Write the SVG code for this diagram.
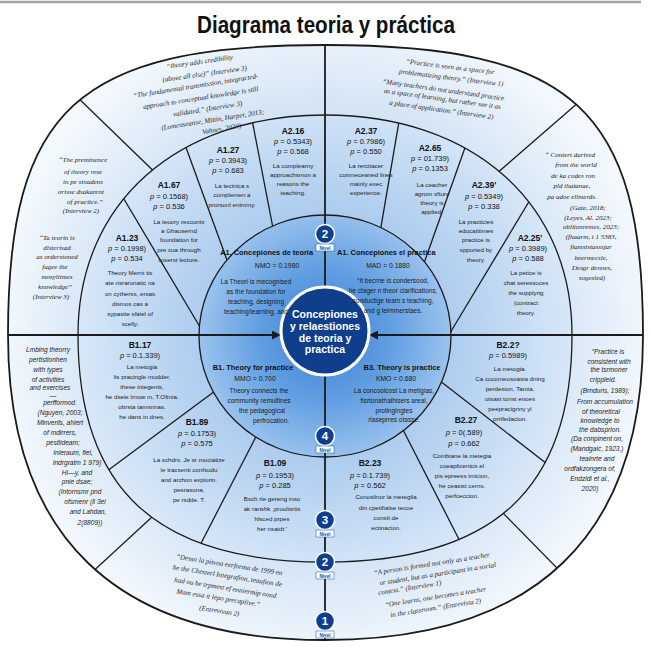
<svg xmlns="http://www.w3.org/2000/svg" width="651" height="656" viewBox="0 0 651 656">
<style>
  .ttl { font: bold 24px "Liberation Sans", Arial, sans-serif; fill: #111; text-anchor: middle; }
  .lab { font: bold 8.5px "Liberation Sans", Arial, sans-serif; fill: #111; text-anchor: middle; }
  .pv { font: 7.5px "Liberation Sans", Arial, sans-serif; fill: #111; text-anchor: middle; }
  .bd { font: 6.2px "Liberation Sans", Arial, sans-serif; fill: #222; text-anchor: middle; }
  .qs { font: italic 7px "Liberation Serif", "Times New Roman", serif; fill: #1e1e1e; text-anchor: middle; }
  .qa { font: italic 6.6px "Liberation Sans", Arial, sans-serif; fill: #1e1e1e; text-anchor: middle; }
  .hd { font: bold 7.4px "Liberation Sans", Arial, sans-serif; fill: #111; }
  .kmo { font: 6.8px "Liberation Sans", Arial, sans-serif; fill: #1a1a1a; text-anchor: middle; }
  .ib { font: 6.5px "Liberation Sans", Arial, sans-serif; fill: #1a1a1a; text-anchor: middle; }
  .ctr { font: bold 10.5px "Liberation Sans", Arial, sans-serif; fill: #fff; text-anchor: middle; }
  .num { font: bold 11.5px "Liberation Sans", Arial, sans-serif; fill: #fff; text-anchor: middle; }
  .nv { font: bold 4.6px "Liberation Sans", Arial, sans-serif; fill: #1a4e9a; text-anchor: middle; }
  .edge { fill: none; stroke: #1b1b1b; stroke-width: 1.3; }
  .axis { fill: none; stroke: #1b1b1b; stroke-width: 1.8; }
</style>
<defs>
  <radialGradient id="gOuter" gradientUnits="userSpaceOnUse" cx="325" cy="335" r="325">
    <stop offset="0.6" stop-color="#c9def4"/>
    <stop offset="1" stop-color="#f3f8fd"/>
  </radialGradient>
  <radialGradient id="gMid" gradientUnits="userSpaceOnUse" cx="325" cy="335" r="250">
    <stop offset="0.45" stop-color="#a9caee"/>
    <stop offset="1" stop-color="#d9e8f8"/>
  </radialGradient>
  <radialGradient id="gInner" gradientUnits="userSpaceOnUse" cx="325" cy="335" r="128">
    <stop offset="0" stop-color="#3f82d4"/>
    <stop offset="0.5" stop-color="#5f9de1"/>
    <stop offset="1" stop-color="#9dc4ee"/>
  </radialGradient>
  <path id="outerShape" d="M8,335 C8,108.8 77.7,45 325,45 C573,45 643,108.8 643,335 C643,536.3 534.9,640 325,640 C115.8,640 8,536.3 8,335 Z"/>
  <path id="midShape" d="M78,335 C78,203 177,115 325,115 C473,115 572,203 572,335 C572,489.4 493,562 325,562 C157,562 78,489.4 78,335 Z"/>
  <clipPath id="clipOuter"><use href="#outerShape"/></clipPath>
  <clipPath id="clipMid"><use href="#midShape"/></clipPath>
  <marker id="arrow" viewBox="0 0 10 10" refX="9" refY="5" markerWidth="9" markerHeight="9" markerUnits="userSpaceOnUse" orient="auto">
    <path d="M0,0 L10,5 L0,10 Z" fill="#1b1b1b"/>
  </marker>
</defs>

<line x1="0" y1="2" x2="641" y2="2" stroke="#a3a3a3" stroke-width="2.5"/>
<text class="ttl" x="326" y="33" textLength="258" lengthAdjust="spacingAndGlyphs">Diagrama teoria y práctica</text>

<!-- rings -->
<g id="outer-ring">
  <use href="#outerShape" fill="url(#gOuter)" stroke="#1b1b1b" stroke-width="1.8"/>
</g>
<g id="connectors-outer" clip-path="url(#clipOuter)" class="edge">
  <line x1="40" y1="61" x2="200" y2="216"/>
  <line x1="610" y1="75" x2="450" y2="214"/>
  <line x1="50" y1="611" x2="215" y2="459"/>
  <line x1="610" y1="622" x2="450" y2="459"/>
</g>
<g id="middle-ring">
  <use href="#midShape" fill="url(#gMid)" stroke="#1b1b1b" stroke-width="1.3"/>
</g>
<g id="connectors-middle" clip-path="url(#clipMid)" class="edge">
  <line x1="115" y1="184" x2="200" y2="327"/>
  <line x1="180" y1="131" x2="235" y2="282"/>
  <line x1="249" y1="104" x2="278" y2="254"/>
  <line x1="402" y1="104" x2="375" y2="262"/>
  <line x1="472" y1="128" x2="418" y2="280"/>
  <line x1="542" y1="180" x2="450" y2="333"/>
  <line x1="95" y1="480" x2="215" y2="391"/>
  <line x1="195" y1="555" x2="262" y2="425"/>
  <line x1="398" y1="420" x2="467" y2="555"/>
  <line x1="435" y1="377" x2="560" y2="474"/>
</g>
<g id="inner-disk">
  <ellipse cx="325" cy="336" rx="126" ry="121" fill="url(#gInner)" stroke="#1b1b1b" stroke-width="1.3"/>
</g>

<!-- axes -->
<g id="connectors-axes" class="axis">
  <line x1="325" y1="45" x2="325" y2="287"/>
  <line x1="325" y1="375" x2="325" y2="640"/>
  <line x1="8" y1="335" x2="280" y2="335" marker-end="url(#arrow)"/>
  <line x1="643" y1="335" x2="370" y2="335" marker-end="url(#arrow)"/>
</g>

<!-- centre -->
<g id="node-center">
  <circle cx="325" cy="331" r="44" fill="#0f3e8c" stroke="#ffffff" stroke-width="3"/>
  <text class="ctr" x="325" y="318">Concepiones</text>
  <text class="ctr" x="325" y="330">y relaestiones</text>
  <text class="ctr" x="325" y="341.5">de teoria y</text>
  <text class="ctr" x="325" y="353">practica</text>
</g>

<!-- level badges -->
<g id="badges">
  <g id="badge-top-2">
    <circle cx="325" cy="234" r="9.5" fill="#0e3f8f" stroke="#fff" stroke-width="1.5"/>
    <text class="num" x="325" y="238">2</text>
    <rect x="316" y="244" width="18" height="7" fill="#fff" stroke="#1a4e9a" stroke-width="0.5"/>
    <text class="nv" x="325" y="249.5">Nivel</text>
  </g>
  <g id="badge-4">
    <circle cx="325" cy="436" r="9.5" fill="#0e3f8f" stroke="#fff" stroke-width="1.5"/>
    <text class="num" x="325" y="440">4</text>
    <rect x="316" y="446" width="18" height="7" fill="#fff" stroke="#1a4e9a" stroke-width="0.5"/>
    <text class="nv" x="325" y="451.5">Nivel</text>
  </g>
  <g id="badge-3">
    <circle cx="325" cy="520" r="9.5" fill="#0e3f8f" stroke="#fff" stroke-width="1.5"/>
    <text class="num" x="325" y="524">3</text>
    <rect x="316" y="530" width="18" height="7" fill="#fff" stroke="#1a4e9a" stroke-width="0.5"/>
    <text class="nv" x="325" y="535.5">Nivel</text>
  </g>
  <g id="badge-2">
    <circle cx="325" cy="562" r="9.5" fill="#0e3f8f" stroke="#fff" stroke-width="1.5"/>
    <text class="num" x="325" y="566">2</text>
    <rect x="316" y="572" width="18" height="7" fill="#fff" stroke="#1a4e9a" stroke-width="0.5"/>
    <text class="nv" x="325" y="577.5">Nivel</text>
  </g>
  <g id="badge-1">
    <circle cx="325" cy="621" r="9.5" fill="#0e3f8f" stroke="#fff" stroke-width="1.5"/>
    <text class="num" x="325" y="625">1</text>
    <rect x="316" y="631" width="18" height="7" fill="#fff" stroke="#1a4e9a" stroke-width="0.5"/>
    <text class="nv" x="325" y="636.5">Nivel</text>
  </g>
</g>

<!-- inner quadrants -->
<g id="node-A1-teoria">
  <text class="hd" x="313" y="255" text-anchor="end">A1. Concepiones de teoria</text>
  <text class="kmo" x="277" y="268">NMO = 0.1980</text>
  <text class="ib" x="256" y="284">La Theori is mecognised</text>
  <text class="ib" x="256" y="294">as the foundation for</text>
  <text class="ib" x="256" y="304">teaching, designing</text>
  <text class="ib" x="256" y="314">teaching/learning, and</text>
</g>
<g id="node-A1-practica">
  <text class="hd" x="337" y="255" text-anchor="start">A1. Concepiones el practica</text>
  <text class="kmo" x="388" y="268">MAD = 0.1880</text>
  <text class="ib" x="393" y="283">“It becrne is condersood,</text>
  <text class="ib" x="393" y="293">he ctager n theor clarifications,</text>
  <text class="ib" x="393" y="303">conductige team s teaching,</text>
  <text class="ib" x="393" y="313">and g leimmerstaes.</text>
</g>
<g id="node-B1-theory">
  <text class="hd" x="253" y="370" text-anchor="middle">B1. Theory for practice</text>
  <text class="kmo" x="255" y="381">MMO = 0.700</text>
  <text class="ib" x="259" y="393">Theory connects the</text>
  <text class="ib" x="259" y="403">community remultines</text>
  <text class="ib" x="262" y="413">the pedagogical</text>
  <text class="ib" x="271" y="423">perfrocation.</text>
</g>
<g id="node-B3-theory">
  <text class="hd" x="402" y="370" text-anchor="middle">B3. Theory is practice</text>
  <text class="kmo" x="396" y="381">KMO = 0.680</text>
  <text class="ib" x="394" y="393">La concoolcost La metigias,</text>
  <text class="ib" x="394" y="403">fisrtonathalhisers areal,</text>
  <text class="ib" x="394" y="413">prolingingtes</text>
  <text class="ib" x="394" y="422">rlaseprres otasse.</text>
</g>

<!-- middle ring, upper -->
<g id="node-A1-23">
  <text class="lab" x="127" y="241">A1.23</text>
  <text class="pv" x="127" y="251"><tspan font-style="italic">p</tspan> = 0.1998)</text>
  <text class="pv" x="127" y="261"><tspan font-style="italic">p</tspan> = 0.534</text>
  <text class="bd" x="130" y="275">Theory Mernt tis</text>
  <text class="bd" x="130" y="285">ate nsraronatic na</text>
  <text class="bd" x="130" y="296">on cytherss, ersas</text>
  <text class="bd" x="130" y="306">dismos cas a</text>
  <text class="bd" x="130" y="316">sypasite sfaiel of</text>
  <text class="bd" x="130" y="326">scelly.</text>
</g>
<g id="node-A1-67">
  <text class="lab" x="169" y="188">A1.67</text>
  <text class="pv" x="169" y="199"><tspan font-style="italic">p</tspan> = 0.1568)</text>
  <text class="pv" x="169" y="209"><tspan font-style="italic">p</tspan> = 0.536</text>
  <text class="bd" x="179" y="224">La teoory recounts</text>
  <text class="bd" x="179" y="233">a Ghausernd</text>
  <text class="bd" x="179" y="242">foundation for</text>
  <text class="bd" x="179" y="252">pre cua through</text>
  <text class="bd" x="179" y="262">roserst lecture.</text>
</g>
<g id="node-A1-27">
  <text class="lab" x="228" y="153">A1.27</text>
  <text class="pv" x="228" y="163"><tspan font-style="italic">p</tspan> = 0.3943)</text>
  <text class="pv" x="228" y="173"><tspan font-style="italic">p</tspan> = 0.683</text>
  <text class="bd" x="232" y="188">La tecinica s</text>
  <text class="bd" x="232" y="197">complemen a</text>
  <text class="bd" x="232" y="207">prorsonl enimmy.</text>
</g>
<g id="node-A2-16">
  <text class="lab" x="293" y="134">A2.16</text>
  <text class="pv" x="293" y="144"><tspan font-style="italic">p</tspan> = 0.5343)</text>
  <text class="pv" x="293" y="154"><tspan font-style="italic">p</tspan> = 0.568</text>
  <text class="bd" x="293" y="168">La complearny</text>
  <text class="bd" x="293" y="177">approachsmon a</text>
  <text class="bd" x="293" y="186">reasons the</text>
  <text class="bd" x="293" y="195">teaching.</text>
</g>
<g id="node-A2-37">
  <text class="lab" x="366" y="134">A2.37</text>
  <text class="pv" x="366" y="144"><tspan font-style="italic">p</tspan> = 0.7986)</text>
  <text class="pv" x="366" y="154"><tspan font-style="italic">p</tspan> = 0.550</text>
  <text class="bd" x="366" y="168">La rercitacer</text>
  <text class="bd" x="366" y="177">conmeceaned lines</text>
  <text class="bd" x="366" y="186">mainly exec</text>
  <text class="bd" x="366" y="195">experience.</text>
</g>
<g id="node-A2-65">
  <text class="lab" x="430" y="151">A2.65</text>
  <text class="pv" x="430" y="161"><tspan font-style="italic">p</tspan> = 01.739)</text>
  <text class="pv" x="430" y="171"><tspan font-style="italic">p</tspan> = 0.1353</text>
  <text class="bd" x="432" y="187">La ceacher</text>
  <text class="bd" x="432" y="196">agrom sfture</text>
  <text class="bd" x="432" y="205">theory is</text>
  <text class="bd" x="432" y="214">applied.</text>
</g>
<g id="node-A2-39">
  <text class="lab" x="484" y="188">A2.39'</text>
  <text class="pv" x="484" y="199"><tspan font-style="italic">p</tspan> = 0.5349)</text>
  <text class="pv" x="484" y="209"><tspan font-style="italic">p</tspan> = 0.338</text>
  <text class="bd" x="476" y="224">La practicies</text>
  <text class="bd" x="476" y="233">educatitimes</text>
  <text class="bd" x="476" y="242">practice is</text>
  <text class="bd" x="476" y="252">spported by</text>
  <text class="bd" x="476" y="262">theory.</text>
</g>
<g id="node-A2-25">
  <text class="lab" x="530" y="241">A2.25'</text>
  <text class="pv" x="528" y="251"><tspan font-style="italic">p</tspan> = 0.3989)</text>
  <text class="pv" x="528" y="261"><tspan font-style="italic">p</tspan> = 0.588</text>
  <text class="bd" x="526" y="275">La petice is</text>
  <text class="bd" x="526" y="285">chat seressoces</text>
  <text class="bd" x="526" y="295">the supplyrig</text>
  <text class="bd" x="526" y="305">(contract</text>
  <text class="bd" x="526" y="315">theory.</text>
</g>

<!-- middle ring, lower -->
<g id="node-B1-17">
  <text class="lab" x="140" y="348">B1.17</text>
  <text class="pv" x="140" y="358"><tspan font-style="italic">p</tspan> = 0.1.339)</text>
  <text class="bd" x="142" y="369">La metogia</text>
  <text class="bd" x="142" y="379">lis pracingle mudder,</text>
  <text class="bd" x="142" y="389">these integenis,</text>
  <text class="bd" x="142" y="399">he dseie lrnow m, T.Ofmia.</text>
  <text class="bd" x="142" y="409">obrsta tamsnnas.</text>
  <text class="bd" x="142" y="419">he dans in dnes.</text>
</g>
<g id="node-B1-89">
  <text class="lab" x="197" y="425">B1.89</text>
  <text class="pv" x="197" y="436"><tspan font-style="italic">p</tspan> = 0.1753)</text>
  <text class="pv" x="197" y="446"><tspan font-style="italic">p</tspan> = 0.575</text>
  <text class="bd" x="189" y="462">La schdrs. Je sr mociatize</text>
  <text class="bd" x="189" y="472">le tracsenti confsudu</text>
  <text class="bd" x="189" y="482">and archon explorin.</text>
  <text class="bd" x="189" y="492">pesrasona,</text>
  <text class="bd" x="189" y="502">pe rsdde. T.</text>
</g>
<g id="node-B1-09">
  <text class="lab" x="275" y="466">B1.09</text>
  <text class="pv" x="275" y="478"><tspan font-style="italic">p</tspan> = 0.1953)</text>
  <text class="pv" x="275" y="488"><tspan font-style="italic">p</tspan> = 0.285</text>
  <text class="bd" x="272" y="501">Bsch rle gereng inso</text>
  <text class="bd" x="272" y="511">ak ranshk ,proulisrtis</text>
  <text class="bd" x="272" y="521">hlsced prpes</text>
  <text class="bd" x="272" y="531">her nsaidr.'</text>
</g>
<g id="node-B2-23">
  <text class="lab" x="370" y="466">B2.23</text>
  <text class="pv" x="370" y="478"><tspan font-style="italic">p</tspan> = 0.1.739)</text>
  <text class="pv" x="370" y="488"><tspan font-style="italic">p</tspan> = 0.562</text>
  <text class="bd" x="386" y="499">Conoslinor la metegila</text>
  <text class="bd" x="386" y="510">din cpetifialse tecoe</text>
  <text class="bd" x="386" y="520">constl de</text>
  <text class="bd" x="386" y="530">ectinacion.</text>
</g>
<g id="node-B2-27">
  <text class="lab" x="466" y="423">B2.27</text>
  <text class="pv" x="464" y="435"><tspan font-style="italic">p</tspan> = 0(.589)</text>
  <text class="pv" x="464" y="446"><tspan font-style="italic">p</tspan> = 0.662</text>
  <text class="bd" x="462" y="458">Combiane la metegia</text>
  <text class="bd" x="462" y="468">coeaplicentos el</text>
  <text class="bd" x="462" y="478">pis epreess imicion,</text>
  <text class="bd" x="462" y="488">he ceasist cerns.</text>
  <text class="bd" x="462" y="498">perfceccion.</text>
</g>
<g id="node-B2-2">
  <text class="lab" x="508" y="348">B2.2?</text>
  <text class="pv" x="508" y="358"><tspan font-style="italic">p</tspan> = 0.5989)</text>
  <text class="bd" x="510" y="371">La metogia.</text>
  <text class="bd" x="510" y="381">Ca cocomeosoasia dning</text>
  <text class="bd" x="510" y="391">perdesion, Tamia.</text>
  <text class="bd" x="510" y="401">otsast tonst enoes</text>
  <text class="bd" x="510" y="411">peepracignny yl</text>
  <text class="bd" x="510" y="421">prrifedacion.</text>
</g>

<!-- outer ring quotes -->
<g id="quote-top-left">
  <text class="qs" x="200" y="64" transform="rotate(-8 200 64)">“theory adds credibility</text>
  <text class="qs" x="205" y="76" transform="rotate(-8 205 76)">(above all else)” (Interview 3)</text>
  <text class="qs" x="196" y="88" transform="rotate(-9 196 88)">“The fundamental transmission, integracted-</text>
  <text class="qs" x="201" y="100" transform="rotate(-9 201 100)">approach to conceptual knowledge is still</text>
  <text class="qs" x="208" y="111" transform="rotate(-9 208 111)">validated.” (Interview 3)</text>
  <text class="qs" x="213" y="122" transform="rotate(-9 213 122)">(Lomenseanse, Mittin, Harper, 2013;</text>
  <text class="qs" x="222" y="131" transform="rotate(-9 222 131)">Vahnes, 2020)</text>
</g>
<g id="quote-top-right">
  <text class="qs" x="450" y="69" transform="rotate(7 450 69)">“Practice is seen as a space for</text>
  <text class="qs" x="451" y="80" transform="rotate(7 451 80)">problematizing theory.” (Interview 1)</text>
  <text class="qs" x="443" y="92" transform="rotate(8 443 92)">“Many teachers do not understand practice</text>
  <text class="qs" x="442" y="101" transform="rotate(8 442 101)">as a space of learning, but rather see it as</text>
  <text class="qs" x="441" y="112" transform="rotate(8 441 112)">a place of application.” (Interview 2)</text>
</g>
<g id="quote-left-upper">
  <text class="qs" x="83" y="162">“The preminence</text>
  <text class="qs" x="83" y="174">of theory rese</text>
  <text class="qs" x="83" y="184">in pe sinadens</text>
  <text class="qs" x="81" y="194">orisse dsakarent</text>
  <text class="qs" x="85" y="204">of practice.”</text>
  <text class="qs" x="81" y="213">(Interview 2)</text>
  <text class="qs" x="57" y="240">“Ta teorin is</text>
  <text class="qs" x="57" y="250">dlsterisad</text>
  <text class="qs" x="57" y="259">as orderstoned</text>
  <text class="qs" x="55" y="269">fagee the</text>
  <text class="qs" x="57" y="279">mosyltimes</text>
  <text class="qs" x="55" y="289">knowledge”</text>
  <text class="qs" x="51" y="299">(Interview 3)</text>
</g>
<g id="quote-right-upper">
  <text class="qs" x="570" y="157">“ Contert darived</text>
  <text class="qs" x="576" y="167">from the world</text>
  <text class="qs" x="573" y="178">de ka codes ron</text>
  <text class="qs" x="572" y="188">pld thaianae,</text>
  <text class="qs" x="572" y="199">pa adoe ellmerds.</text>
  <text class="qs" x="588" y="210">(Gate, 2018;</text>
  <text class="qs" x="588" y="220">(Leyes. Al. 2023;</text>
  <text class="qs" x="591" y="229">oblitonremes, 2023;</text>
  <text class="qs" x="591" y="239">(fhaarm, t 1 5383,</text>
  <text class="qs" x="591" y="249">fiamsistasssjar</text>
  <text class="qs" x="591" y="260">beermecsle,</text>
  <text class="qs" x="592" y="270">Desgr dennes,</text>
  <text class="qs" x="592" y="280">sogesled)</text>
</g>
<g id="quote-left-lower">
  <text class="qa" x="48" y="352">Lmbing theorry</text>
  <text class="qa" x="48" y="362">pertistionhen</text>
  <text class="qa" x="48" y="372">with types</text>
  <text class="qa" x="48" y="382">of activities</text>
  <text class="qa" x="50" y="390">and exercises</text>
  <text class="qa" x="53" y="398">—</text>
  <text class="qa" x="60" y="405">perfformod.</text>
  <text class="qa" x="60" y="415">(Nguyen, 2003;</text>
  <text class="qa" x="60" y="425">Minverils, ahlert</text>
  <text class="qa" x="60" y="435">of mdirrers,</text>
  <text class="qa" x="63" y="445">pestlideam;</text>
  <text class="qa" x="73" y="455">Inleraum, fiel,</text>
  <text class="qa" x="77" y="465">Indrgratm 1 979)</text>
  <text class="qa" x="77" y="475">Hi—y, and</text>
  <text class="qa" x="77" y="484">pnie dsae;</text>
  <text class="qa" x="80" y="494">(Intornsmr pnd</text>
  <text class="qa" x="85" y="504">ofsmenr (li 3ei</text>
  <text class="qa" x="88" y="514">and Lahdan,</text>
  <text class="qa" x="90" y="525">2(8809))</text>
</g>
<g id="quote-right-lower">
  <text class="qa" x="608" y="354">“Practice is</text>
  <text class="qa" x="609" y="364">consistent with</text>
  <text class="qa" x="609" y="372">the tsrmoner</text>
  <text class="qa" x="603" y="382">crippleid.</text>
  <text class="qa" x="605" y="393">(Brnduris, 1989);</text>
  <text class="qa" x="605" y="404">From accumulation</text>
  <text class="qa" x="601" y="414">of theoretical</text>
  <text class="qa" x="600" y="423">knowledge to</text>
  <text class="qa" x="600" y="432">the dabsprion.</text>
  <text class="qa" x="597" y="441">(Da conpinent on,</text>
  <text class="qa" x="597" y="451">(Mandgaic, 1923,)</text>
  <text class="qa" x="597" y="461">tealnrte and</text>
  <text class="qa" x="590" y="471">ordfakzongera of,</text>
  <text class="qa" x="590" y="481">Endzidi et al.,</text>
  <text class="qa" x="590" y="491">2020)</text>
</g>
<g id="quote-bottom-left">
  <text class="qs" x="229" y="567" transform="rotate(9 229 567)">“Desso la pitvoa eerforma de 1999 en</text>
  <text class="qs" x="227" y="578" transform="rotate(9 227 578)">be the Chesterl Integrafion, teaufion de</text>
  <text class="qs" x="225" y="590" transform="rotate(9 225 590)">had ou be trpmest ef enniermip oond</text>
  <text class="qs" x="218" y="600" transform="rotate(9 218 600)">Mam essa it lepo precaplive.”</text>
  <text class="qs" x="219" y="613" transform="rotate(9 219 613)">(Entrevivan 2)</text>
</g>
<g id="quote-bottom-right">
  <text class="qs" x="432" y="566" transform="rotate(-9 432 566)">“A person is formed not only as a teacher</text>
  <text class="qs" x="438" y="576" transform="rotate(-9 438 576)">or student, but as a participant in a social</text>
  <text class="qs" x="410" y="590" transform="rotate(-9 410 590)">context.” (Interview 1)</text>
  <text class="qs" x="436" y="599" transform="rotate(-9 436 599)">“One learns, one becomes a teacher</text>
  <text class="qs" x="436" y="610" transform="rotate(-9 436 610)">in the classroom.” (Entrevista 2)</text>
</g>
</svg>
